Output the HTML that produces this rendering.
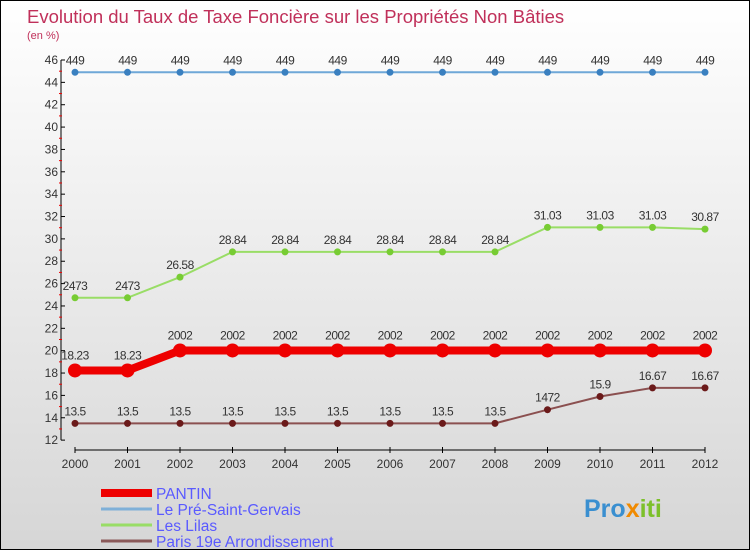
<!DOCTYPE html>
<html><head><meta charset="utf-8"><style>
body{margin:0}
#c{position:relative;width:748px;height:548px;border:1px solid #000;background:linear-gradient(#ffffff,#d6d6d6);overflow:hidden;font-family:"Liberation Sans",sans-serif}
svg text{font-family:"Liberation Sans",sans-serif}
</style></head><body>
<div id="c">
<svg id="s" width="748" height="548">
<text x="26" y="22" font-size="18.5" fill="#c0305a">Evolution du Taux de Taxe Foncière sur les Propriétés Non Bâties</text>
<text x="26" y="38" font-size="11" fill="#c0305a">(en %)</text>
<text x="583" y="516" font-size="25" font-weight="bold" fill="#3a8fd0">Pro<tspan fill="#f08a00">x</tspan><tspan fill="#7cc02a">iti</tspan></text>
</svg>
</div>
<script>
const years=[2000,2001,2002,2003,2004,2005,2006,2007,2008,2009,2010,2011,2012];
const pantin=[18.23,18.23,20.02,20.02,20.02,20.02,20.02,20.02,20.02,20.02,20.02,20.02,20.02];
const preSaint=[44.9,44.9,44.9,44.9,44.9,44.9,44.9,44.9,44.9,44.9,44.9,44.9,44.9];
const lilas=[24.73,24.73,26.58,28.84,28.84,28.84,28.84,28.84,28.84,31.03,31.03,31.03,30.87];
const paris=[13.5,13.5,13.5,13.5,13.5,13.5,13.5,13.5,13.5,14.72,15.9,16.67,16.67];
const yTicks=[12,14,16,18,20,22,24,26,28,30,32,34,36,38,40,42,44,46];
const seriesNames=["PANTIN","Le Pré-Saint-Gervais","Les Lilas","Paris 19e  Arrondissement"];
const NS="http://www.w3.org/2000/svg";const s=document.getElementById('s');
const X=i=>74+i*52.5, Y=v=>59+(46-v)*11.18;
function el(t,a,p){const e=document.createElementNS(NS,t);for(const k in a)e.setAttribute(k,a[k]);(p||s).appendChild(e);return e;}
const ax=el('g',{});


el('line',{x1:60,y1:Y(46),x2:60,y2:Y(12),stroke:'#000'},ax);
el('line',{x1:X(0),y1:449,x2:X(12),y2:449,stroke:'#000'},ax);
yTicks.forEach(v=>{el('line',{x1:60,y1:Y(v),x2:64,y2:Y(v),stroke:'#000'},ax);
 if(v<46)el('line',{x1:58,y1:Y(v+1),x2:61,y2:Y(v+1),stroke:'#e00'},ax);
 const t=el('text',{x:57,y:Y(v)+4,'font-size':12,fill:'#333','text-anchor':'end'},ax);t.textContent=v;
 
 });
years.forEach((y,i)=>{el('line',{x1:X(i),y1:446,x2:X(i),y2:452,stroke:'#000'},ax);
 const t=el('text',{x:X(i),y:467,'font-size':12,fill:'#333','text-anchor':'middle'},ax);t.textContent=y;
 
 });
function series(data,color,lw,r,name,fill){
 const g=el('g',{});
 
 
 el('polyline',{points:data.map((v,i)=>X(i)+','+Y(v)).join(' '),fill:'none',stroke:color,'stroke-width':lw},g);
 data.forEach((v,i)=>{const c=el('circle',{cx:X(i),cy:Y(v),r:r,fill:fill||color},g);
  
  
  const t=el('text',{x:X(i),y:Y(v)-8-(r>4?3:0),'font-size':12,fill:'#333','text-anchor':'middle','letter-spacing':'-0.5'},g);
  t.textContent=String(v).replace('44.9','449').replace('20.02','2002').replace('24.73','2473').replace('14.72','1472');
  
  });
}
series(preSaint,'#6fa8d8',2,3.5,'series-pre-saint-gervais','#3a80c0');
series(lilas,'#99dd66',2,3.5,'series-les-lilas','#77cc33');
series(paris,'#8b5050',2,3.5,'series-paris-19e','#6b1a1a');
series(pantin,'#ee0000',8,7,'series-pantin');
const lc=['#ee0000','#7fb0d8','#99dd66','#8b5a5a'],lw=[8,3,3,3];
seriesNames.forEach((n,i)=>{const y=492+i*16;
 const g=el('g',{});
 
 
 el('line',{x1:100,y1:y,x2:151,y2:y,stroke:lc[i],'stroke-width':lw[i]},g);
 const t=el('text',{x:155,y:y+6,'font-size':15.5,fill:'#5a5aff'},g);t.textContent=n;
 
 });
</script>
</body></html>
